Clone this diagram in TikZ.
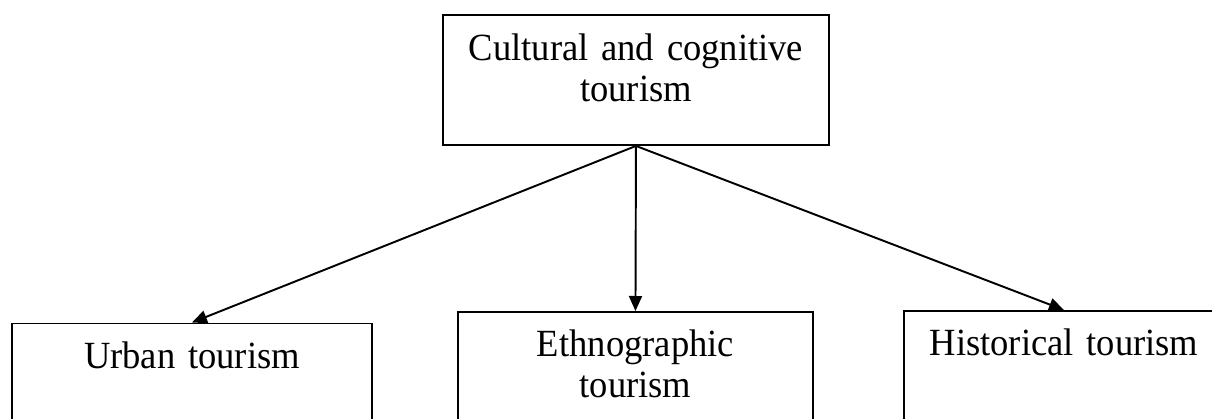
\documentclass[tikz,border=0pt]{standalone}
\usepackage{fontspec}
\setmainfont{Liberation Serif}[FakeStretch=0.95]
\usetikzlibrary{arrows.meta}
\begin{document}
\begin{tikzpicture}

      \tikzset{box/.style={draw, line width=1.1pt, inner sep=0pt, anchor=north west, align=center, font=\fontsize{21.9}{23}\selectfont},
               arr/.style={draw, line width=1.1pt, -{Triangle[length=0.3cm, width=0.26cm]}}}
      \useasboundingbox (0,0) rectangle (24.24,8.36);
%% Boxes
      	\node[box, text width=7.72cm, text height=0.92cm, text depth=1.68cm] (top) at (8.84,8.08) {Cultural and cognitive\\tourism};
      	\node[box, text width=7.2cm, text height=0.9cm, text depth=1.51cm] (urban) at (0.22,1.91) {Urban tourism};
      	\node[box, text width=7.1cm, text height=0.9cm, text depth=1.74cm] (ethno) at (9.14,2.14) {Ethnographic\\tourism};
      	\node[box, text width=6.4cm, text height=0.9cm, text depth=1.76cm] (hist) at (18.06,2.16) {Historical tourism};
%Arrows
		\path (top.south) edge[arr] (urban.north);
		\path (top.south) edge[arr] (ethno.north);
		\path (top.south) edge[arr] (hist.north);

	\end{tikzpicture}
\end{document}
